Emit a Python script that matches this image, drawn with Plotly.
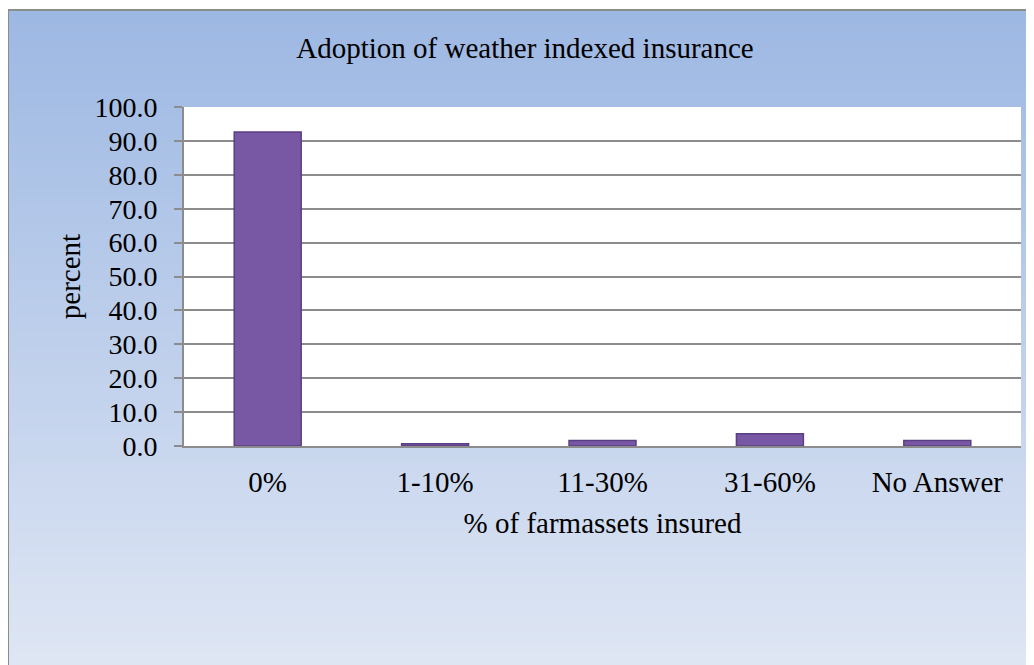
import plotly.graph_objects as go

categories = ["0%", "1-10%", "11-30%", "31-60%", "No Answer"]
percent_values = [92.6, 0.7, 1.6, 3.6, 1.6]
y_ticks = [0, 10, 20, 30, 40, 50, 60, 70, 80, 90, 100]
y_tick_labels = [f"{v:.1f}" for v in y_ticks]

FONT = "Liberation Serif, Times New Roman, serif"
W, H = 1034, 665
ML, MR, MT, MB = 176, 21, 99, 227
PW, PH = W - ML - MR, H - MT - MB


def px_x(px):
    return (px - ML) / PW


def px_y(py):
    return (H - MB - py) / PH


fig = go.Figure()
fig.add_trace(go.Bar(
    x=categories, y=percent_values,
    marker=dict(color="#7857a4", line=dict(color="#5a3f82", width=1.5)),
    width=0.4,
))

# gradient background via stacked paper shapes
shapes = []
n = 90
top = (157, 184, 227)
bot = (224, 231, 244)
top_px, bot_px = 2, H + 10
for i in range(n):
    t = i / (n - 1)
    c = tuple(int(round(top[k] + (bot[k] - top[k]) * t)) for k in range(3))
    pa = top_px + (bot_px - top_px) * i / n
    pb = top_px + (bot_px - top_px) * (i + 1) / n + 1
    shapes.append(dict(type="rect", xref="paper", yref="paper",
                       x0=px_x(-1), x1=px_x(W + 5), y0=px_y(pb), y1=px_y(pa),
                       fillcolor="rgb(%d,%d,%d)" % c, line=dict(width=0),
                       layer="below"))
# outer border (left & top)
shapes.append(dict(type="line", xref="paper", yref="paper",
                   x0=px_x(0), x1=px_x(0), y0=px_y(H + 10), y1=px_y(2),
                   line=dict(color="#8c8c8c", width=2), layer="below"))
shapes.append(dict(type="line", xref="paper", yref="paper",
                   x0=px_x(0), x1=px_x(W + 5), y0=px_y(2), y1=px_y(2),
                   line=dict(color="#8c8c8c", width=2), layer="below"))
# white plot area
shapes.append(dict(type="rect", xref="paper", yref="paper", x0=0, x1=1, y0=0, y1=1,
                   fillcolor="white", line=dict(width=0), layer="below"))
fig.update_layout(shapes=shapes)

fig.update_layout(
    width=W, height=H,
    margin=dict(l=ML, r=MR, t=MT, b=MB),
    paper_bgcolor="white",
    plot_bgcolor="white",
    showlegend=False,
    font=dict(family=FONT, color="black", size=28),
    title=dict(text="Adoption of weather indexed insurance", x=0.5, xref="container",
               y=1 - 40 / H, yanchor="middle",
               font=dict(family=FONT, size=29, color="black")),
    xaxis=dict(
        showline=True, linecolor="#8c8c8c", linewidth=2,
        ticks="", ticklabelstandoff=9, tickfont=dict(family=FONT, size=29),
        title=dict(text="% of farmassets insured", font=dict(family=FONT, size=29), standoff=16),
    ),
    yaxis=dict(
        range=[0, 100], tickvals=y_ticks, ticktext=y_tick_labels,
        showgrid=True, gridcolor="#8c8c8c", gridwidth=1.5,
        showline=True, linecolor="#8c8c8c", linewidth=2,
        ticks="outside", ticklen=8, tickcolor="#8c8c8c", tickwidth=1.5,
        ticklabelstandoff=11,
        tickfont=dict(family=FONT, size=28),
        title=dict(text="percent", font=dict(family=FONT, size=29), standoff=5),
        zeroline=False,
    ),
)

fig.write_html("out.html")
